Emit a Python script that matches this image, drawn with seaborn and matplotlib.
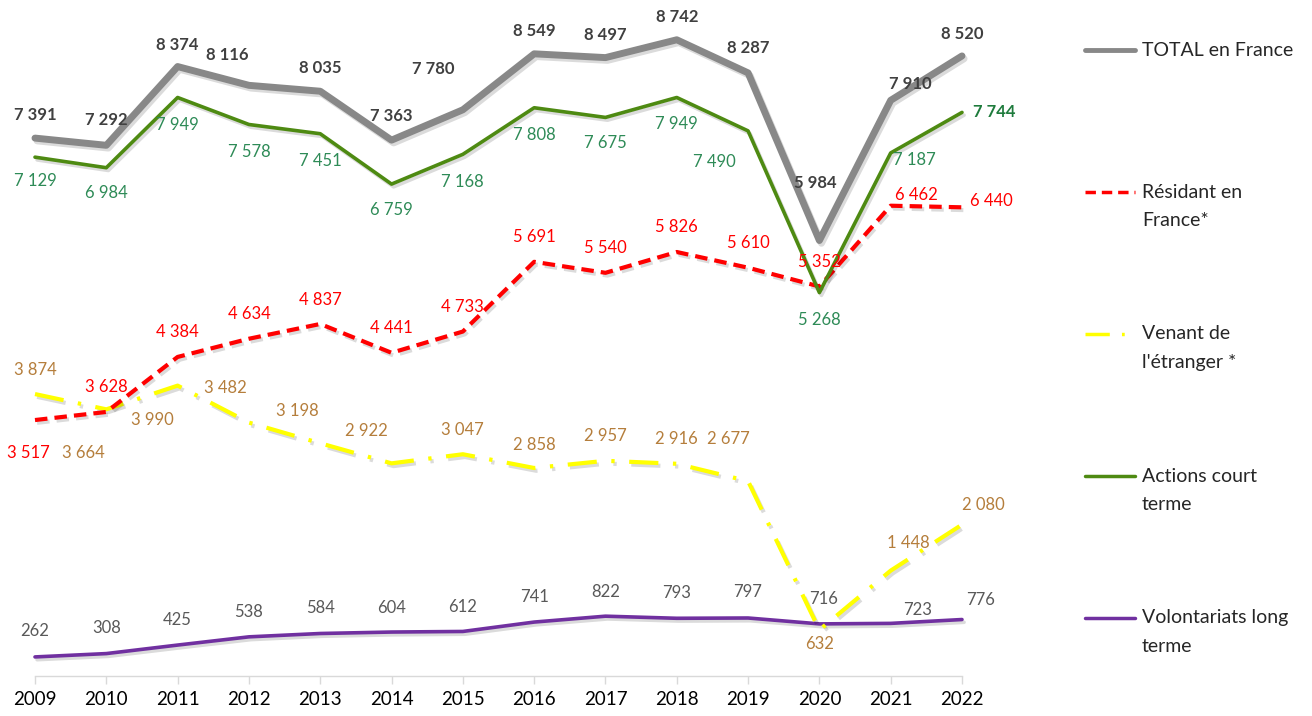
import matplotlib
matplotlib.use("Agg")
import matplotlib.pyplot as plt
import matplotlib.patheffects as pe
from matplotlib.lines import Line2D
import seaborn as sns
import pandas as pd

# ---------------- data ----------------
years = [2009, 2010, 2011, 2012, 2013, 2014, 2015, 2016, 2017, 2018, 2019, 2020, 2021, 2022]
total = [7391, 7292, 8374, 8116, 8035, 7363, 7780, 8549, 8497, 8742, 8287, 5984, 7910, 8520]
resident = [3517, 3628, 4384, 4634, 4837, 4441, 4733, 5691, 5540, 5826, 5610, 5352, 6462, 6440]
etranger = [3874, 3664, 3990, 3482, 3198, 2922, 3047, 2858, 2957, 2916, 2677, 632, 1448, 2080]
court = [7129, 6984, 7949, 7578, 7451, 6759, 7168, 7808, 7675, 7949, 7490, 5268, 7187, 7744]
long_terme = [262, 308, 425, 538, 584, 604, 612, 741, 822, 793, 797, 716, 723, 776]

series_names = ["TOTAL en France", "Résidant en\nFrance*", "Venant de\nl'étranger *",
                "Actions court\nterme", "Volontariats long\nterme"]

# ---------------- label offsets (pixels) ----------------
off_total = [(0, 23), (0, 25), (0, 22), (-22, 30), (0, 23), (0, 24), (-30, 41), (0, 23),
             (0, 23), (0, 23), (0, 25), (-4, 57), (20, 16), (0, 22)]
off_court = [(0, -24), (0, -25), (0, -28), (0, -28), (0, -27), (0, -26), (0, -28), (0, -27),
             (0, -26), (0, -27), (-34, -31), (0, -27), (24, -7), (32, 0)]
off_res = [(-7, -33), (0, 25), (0, 25), (0, 25), (0, 24), (0, 25), (0, 25), (0, 25),
           (0, 25), (0, 25), (0, 25), (0, 24), (26, 11), (29, 6)]
off_etr = [(0, 24), (-23, -44), (-25, -34), (-24, 35), (-23, 32), (-25, 32), (0, 24), (0, 23),
           (0, 25), (0, 25), (-20, 42), (0, -14), (18, 28), (21, 20)]
off_long = [(0, 26), (0, 26), (0, 25), (0, 25), (0, 25), (0, 24), (0, 24), (0, 25),
            (0, 24), (0, 25), (-1, 26), (4, 25), (27, 13), (19, 20)]

sns.set_theme(style="white")
plt.rcParams["font.family"] = ["Lato", "DejaVu Sans"]

W, H = 1312, 716
fig = plt.figure(figsize=(W / 100, H / 100), dpi=100)
left_px, right_px, top_px, bot_px = 35, 962, 21, 676
ax = fig.add_axes([left_px / W, 1 - bot_px / H, (right_px - left_px) / W, (bot_px - top_px) / H])

df = pd.DataFrame({"year": years, "total": total, "resident": resident,
                   "etranger": etranger, "court": court, "long": long_terme})

shadow = [pe.SimpleLineShadow(offset=(1.5, -2), shadow_color="#000000", alpha=0.14), pe.Normal()]

specs = [
    ("long", "#7030a0", 2.6, "-"),
    ("etranger", "#ffff00", 3.0, (0, (7, 3.5, 0.8, 3.5))),
    ("resident", "#ff0000", 3.0, (0, (3, 1.7))),
    ("court", "#4e8a12", 2.6, "-"),
    ("total", "#888888", 5.0, "-"),
]
for col, color, lw, ls in specs:
    sns.lineplot(data=df, x="year", y=col, ax=ax, color=color, linewidth=lw, legend=False)
    line = ax.lines[-1]
    line.set_linestyle(ls)
    line.set_clip_on(False)
    line.set_path_effects(shadow)

def fmt(v):
    return f"{v:,}".replace(",", " ")

label_specs = [
    (total, off_total, "#404040", "bold"),
    (court, off_court, "#2e8b57", "normal"),
    (resident, off_res, "#ff0000", "normal"),
    (etranger, off_etr, "#b57e3c", "normal"),
    (long_terme, off_long, "#595959", "normal"),
]
for vals, offs, color, weight in label_specs:
    for i, (x, v) in enumerate(zip(years, vals)):
        w = weight
        c = color
        if vals is court and i == len(vals) - 1:
            w, c = "bold", "#1e7b3c"
        ax.annotate(fmt(v), (x, v), xytext=offs[i], textcoords="offset pixels",
                    ha="center", va="center", fontsize=12, color=c, fontweight=w,
                    annotation_clip=False)

ax.set_xlim(2009, 2022)
ax.set_ylim(0, 9000)
ax.set_xticks(years)
ax.set_xticklabels([str(y) for y in years], fontsize=13.5, color="#000000")
ax.set_yticks([])
ax.set_xlabel("")
ax.set_ylabel("")
for s in ["top", "right", "left"]:
    ax.spines[s].set_visible(False)
ax.spines["bottom"].set_color("#d9d9d9")
ax.spines["bottom"].set_linewidth(1.0)
ax.tick_params(axis="x", which="major", direction="out", length=6, width=1,
               color="#d9d9d9", pad=5, bottom=True)

# ---------------- legend (manual, right side) ----------------
leg_styles = [("#888888", 3.5, "-"), ("#ff0000", 2.5, (0, (3, 1.7))),
              ("#ffff00", 2.5, (0, (7, 3.5, 0.8, 3.5))), ("#4e8a12", 2.5, "-"),
              ("#7030a0", 2.5, "-")]
leg_y = [50, 192, 334, 476, 618]
for name, (c, lw, ls), y in zip(series_names, leg_styles, leg_y):
    fig.add_artist(Line2D([1085 / W, 1135 / W], [1 - y / H, 1 - y / H], color=c,
                          linewidth=lw, linestyle=ls, transform=fig.transFigure))
    for k, part in enumerate(name.split("\n")):
        fig.text(1142 / W, 1 - (y + 28 * k) / H, part, ha="left", va="center",
                 fontsize=14, color="#262626")

fig.savefig("out.png", dpi=100, facecolor="white")
